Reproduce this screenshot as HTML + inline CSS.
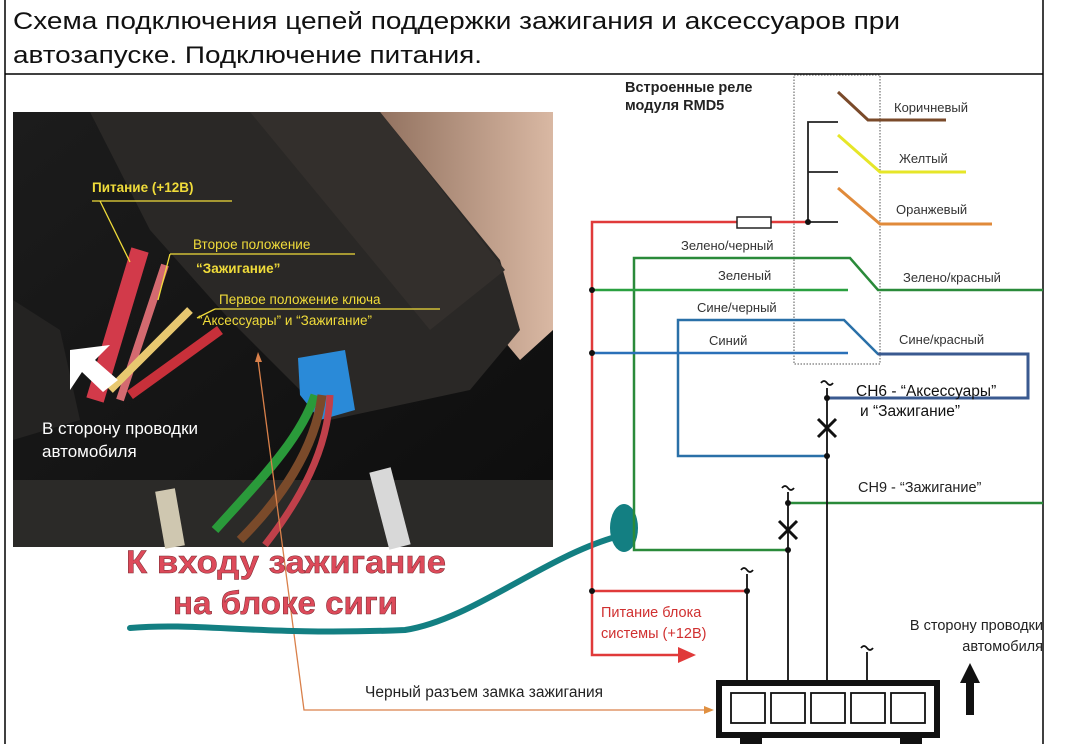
<!DOCTYPE html>
<html><head><meta charset="utf-8"><style>
html,body{margin:0;padding:0;background:#fff;}
svg{display:block;}
text{font-family:"Liberation Sans",sans-serif;}
</style></head><body>
<svg width="1080" height="744" viewBox="0 0 1080 744" xmlns="http://www.w3.org/2000/svg">
<!-- frame -->
<line x1="5" y1="0" x2="5" y2="744" stroke="#000" stroke-width="1.5"/>
<line x1="1043" y1="0" x2="1043" y2="744" stroke="#000" stroke-width="1.5"/>
<line x1="5" y1="74" x2="1043" y2="74" stroke="#000" stroke-width="1.5"/>
<text x="13" y="29" font-size="24" fill="#111" textLength="887" lengthAdjust="spacingAndGlyphs">Схема подключения цепей поддержки зажигания и аксессуаров при</text>
<text x="13" y="63" font-size="24" fill="#111" textLength="469" lengthAdjust="spacingAndGlyphs">автозапуске. Подключение питания.</text>

<!-- photo -->
<defs>
<linearGradient id="bg" x1="0" y1="0" x2="1" y2="1"><stop offset="0" stop-color="#1c1c1c"/><stop offset="1" stop-color="#0d0d0d"/></linearGradient>
<linearGradient id="skin" x1="0" y1="0" x2="1" y2="0"><stop offset="0" stop-color="#8a6a58"/><stop offset="1" stop-color="#d9b8a3"/></linearGradient>
</defs>
<rect x="13" y="112" width="540" height="435" fill="url(#bg)"/>
<polygon points="360,112 553,112 553,330 520,360 470,300 420,200" fill="url(#skin)"/>
<polygon points="90,112 380,112 500,260 520,330 470,390 330,420 230,320 150,230" fill="#2a2826"/>
<polygon points="250,112 380,112 505,270 430,330" fill="#332f2c"/>
<rect x="13" y="480" width="540" height="67" fill="#2b2a28"/>
<polygon points="13,300 60,330 80,420 13,440" fill="#242322"/>
<!-- wires -->
<path d="M140,250 L95,400" stroke="#d23a4a" stroke-width="18" fill="none"/>
<path d="M165,265 L120,400" stroke="#d46a70" stroke-width="8" fill="none"/>
<path d="M190,310 L110,390" stroke="#e8c870" stroke-width="8" fill="none"/>
<path d="M220,330 L130,395" stroke="#c8303a" stroke-width="10" fill="none"/>
<polygon points="70,350 110,345 95,360 118,380 103,392 82,372 70,390" fill="#fff"/>
<polygon points="298,358 345,350 355,410 320,420 300,395" fill="#2a8ad8"/>
<path d="M315,395 C300,440 260,480 215,530" stroke="#2a9a3a" stroke-width="9" fill="none"/>
<path d="M322,395 C315,450 280,500 240,540" stroke="#7a4a2a" stroke-width="9" fill="none"/>
<path d="M330,395 C328,450 300,500 265,545" stroke="#c0404a" stroke-width="7" fill="none"/>
<path d="M380,470 L400,547" stroke="#d8d8d8" stroke-width="22" fill="none"/>
<path d="M165,490 L175,547" stroke="#cfc7b0" stroke-width="20" fill="none"/>
<!-- photo labels -->
<text x="92" y="192" font-size="13.5" font-weight="bold" fill="#f0dc3a">Питание (+12В)</text>
<line x1="92" y1="201" x2="232" y2="201" stroke="#f0dc3a" stroke-width="1.3"/>
<polyline points="100,201 130,262" stroke="#f0dc3a" fill="none" stroke-width="1.3"/>
<text x="193" y="249" font-size="13.5" fill="#f0dc3a">Второе положение</text>
<line x1="170" y1="254" x2="355" y2="254" stroke="#f0dc3a" stroke-width="1.3"/>
<polyline points="170,254 158,300" stroke="#f0dc3a" fill="none" stroke-width="1.3"/>
<text x="196" y="273" font-size="13.5" font-weight="bold" fill="#f0dc3a">“Зажигание”</text>
<text x="219" y="304" font-size="13.5" fill="#f0dc3a">Первое положение ключа</text>
<line x1="215" y1="309" x2="440" y2="309" stroke="#f0dc3a" stroke-width="1.3"/>
<polyline points="215,309 197,318" stroke="#f0dc3a" fill="none" stroke-width="1.3"/>
<text x="198" y="325" font-size="13.5" fill="#f0dc3a">“Аксессуары” и “Зажигание”</text>
<text x="42" y="434" font-size="17" fill="#fff">В сторону проводки</text>
<text x="42" y="457" font-size="17" fill="#fff">автомобиля</text>

<!-- orange pointer -->
<polyline points="258,360 304,710 712,710" stroke="#d9804a" stroke-width="1.3" fill="none"/>
<polygon points="255,362 258,352 262,362" fill="#d9804a"/>
<polygon points="704,706 714,710 704,714" fill="#e09040"/>
<text x="365" y="697" font-size="15.5" fill="#222">Черный разъем замка зажигания</text>

<!-- teal stroke -->
<path d="M130,628 C200,622 260,636 405,630 C470,620 540,560 612,538" stroke="#137f82" stroke-width="6" fill="none" stroke-linecap="round"/>
<ellipse cx="624" cy="528" rx="14" ry="24" fill="#137f82"/>
<!-- red text -->
<g font-size="32" font-weight="bold" fill="#dd4a5a" stroke="#7a2a30" stroke-width="0.5">
<text x="126" y="573" textLength="320" lengthAdjust="spacingAndGlyphs">К входу зажигание</text>
<text x="173" y="614" textLength="225" lengthAdjust="spacingAndGlyphs">на блоке сиги</text>
</g>

<!-- right diagram -->
<rect x="794" y="75" width="86" height="289" fill="none" stroke="#555" stroke-width="1" stroke-dasharray="1.5,1.5"/>
<text x="625" y="92" font-size="14.5" font-weight="bold" fill="#222">Встроенные реле</text>
<text x="625" y="110" font-size="14.5" font-weight="bold" fill="#222">модуля RMD5</text>
<!-- red -->
<polyline points="808,222 592,222 592,655 680,655" stroke="#e03a3a" stroke-width="2.5" fill="none"/>
<polygon points="678,647 696,655 678,663" fill="#e03a3a"/>
<rect x="737" y="217" width="34" height="11" fill="#fff" stroke="#222" stroke-width="1.5"/>
<polyline points="592,591 747,591" stroke="#e03a3a" stroke-width="2.5" fill="none"/>
<text x="601" y="617" font-size="14.5" fill="#d03030">Питание блока</text>
<text x="601" y="638" font-size="14.5" fill="#d03030">системы (+12В)</text>
<!-- relay commons -->
<polyline points="838,122 808,122 808,222 838,222" stroke="#222" stroke-width="1.8" fill="none"/>
<line x1="808" y1="172" x2="838" y2="172" stroke="#222" stroke-width="1.8"/>
<polyline points="838,92 868,120 946,120" stroke="#7a4a2a" stroke-width="3" fill="none"/>
<polyline points="838,135 880,172 966,172" stroke="#e6e628" stroke-width="3" fill="none"/>
<polyline points="838,188 880,224 992,224" stroke="#e08a3a" stroke-width="3" fill="none"/>
<text x="894" y="112" font-size="13" fill="#333">Коричневый</text>
<text x="899" y="163" font-size="13" fill="#333">Желтый</text>
<text x="896" y="214" font-size="13" fill="#333">Оранжевый</text>
<!-- green -->
<polyline points="788,550 634,550 634,258 850,258 878,290 1043,290" stroke="#2a8a3a" stroke-width="2.5" fill="none"/>
<line x1="592" y1="290" x2="848" y2="290" stroke="#2aa040" stroke-width="2.5"/>
<text x="681" y="250" font-size="13" fill="#333">Зелено/черный</text>
<text x="718" y="280" font-size="13" fill="#333">Зеленый</text>
<text x="903" y="282" font-size="13" fill="#333">Зелено/красный</text>
<line x1="788" y1="503" x2="1043" y2="503" stroke="#2a8a3a" stroke-width="2.5"/>
<text x="858" y="492" font-size="14.5" fill="#222">CH9 - “Зажигание”</text>
<!-- blue -->
<polyline points="827,456 678,456 678,320 844,320 878,354 1028,354 1028,398 827,398" stroke="#2a70a8" stroke-width="2.5" fill="none"/>
<polyline points="878,354 1028,354 1028,398 827,398" stroke="#3a5a90" stroke-width="3" fill="none"/>
<line x1="592" y1="353" x2="848" y2="353" stroke="#2a70b8" stroke-width="2.5"/>
<text x="697" y="312" font-size="13" fill="#333">Сине/черный</text>
<text x="709" y="345" font-size="13" fill="#333">Синий</text>
<text x="899" y="344" font-size="13" fill="#333">Сине/красный</text>
<text x="856" y="396" font-size="15.5" fill="#111">CH6 - “Аксессуары”</text>
<text x="860" y="416" font-size="15.5" fill="#111">и “Зажигание”</text>
<!-- black verticals -->
<g stroke="#111" stroke-width="1.8" fill="none">
<line x1="827" y1="388" x2="827" y2="705"/>
<line x1="788" y1="492" x2="788" y2="705"/>
<line x1="747" y1="574" x2="747" y2="705"/>
<line x1="867" y1="652" x2="867" y2="705"/>
<path d="M821,383 q3,-4 6,0 q3,4 6,0"/>
<path d="M782,488 q3,-4 6,0 q3,4 6,0"/>
<path d="M741,570 q3,-4 6,0 q3,4 6,0"/>
<path d="M861,648 q3,-4 6,0 q3,4 6,0"/>
</g>
<g stroke="#111" stroke-width="3">
<line x1="818" y1="419" x2="836" y2="437"/><line x1="836" y1="419" x2="818" y2="437"/>
<line x1="779" y1="521" x2="797" y2="539"/><line x1="797" y1="521" x2="779" y2="539"/>
</g>
<g fill="#111">
<circle cx="808" cy="222" r="3"/><circle cx="592" cy="290" r="3"/><circle cx="592" cy="353" r="3"/>
<circle cx="827" cy="398" r="3"/><circle cx="827" cy="456" r="3"/><circle cx="788" cy="503" r="3"/>
<circle cx="788" cy="550" r="3"/><circle cx="592" cy="591" r="3"/><circle cx="747" cy="591" r="3"/>
</g>
<!-- connector -->
<rect x="719" y="683" width="218" height="52" fill="#fff" stroke="#111" stroke-width="6"/>
<g fill="none" stroke="#111" stroke-width="1.8">
<rect x="731" y="693" width="34" height="30"/><rect x="771" y="693" width="34" height="30"/>
<rect x="811" y="693" width="34" height="30"/><rect x="851" y="693" width="34" height="30"/>
<rect x="891" y="693" width="34" height="30"/>
</g>
<rect x="740" y="737" width="22" height="7" fill="#111"/><rect x="900" y="737" width="22" height="7" fill="#111"/>
<!-- up arrow -->
<rect x="966" y="680" width="8" height="35" fill="#111"/>
<polygon points="960,683 970,663 980,683" fill="#111"/>
<text x="1043" y="630" font-size="14.5" fill="#222" text-anchor="end">В сторону проводки</text>
<text x="1043" y="651" font-size="14.5" fill="#222" text-anchor="end">автомобиля</text>
</svg>
</body></html>
